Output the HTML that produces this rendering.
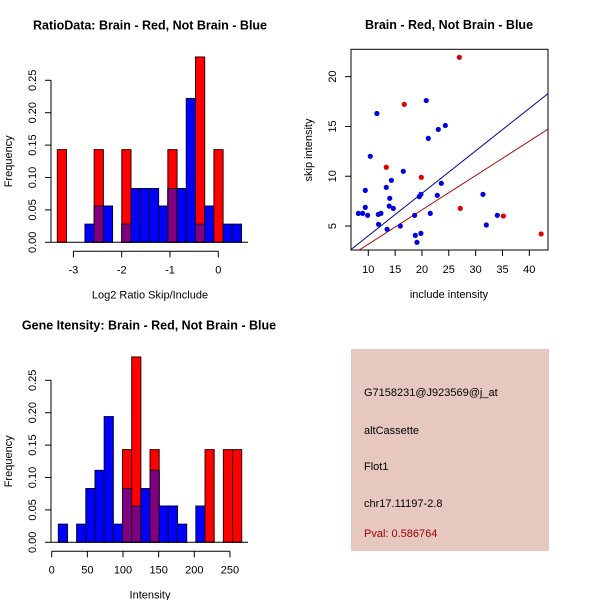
<!DOCTYPE html>
<html><head><meta charset="utf-8"><style>
body{margin:0;background:#fff}
svg{display:block;font-family:"Liberation Sans",sans-serif}
</style></head><body>
<svg id="c" width="600" height="600" viewBox="0 0 600 600">
<rect x="351" y="349" width="198" height="202" fill="#e6c8c0"/>
<g font-size="11" fill="#000">
<text x="364" y="396">G7158231@J923569@j_at</text>
<text x="364" y="434">altCassette</text>
<text x="364" y="470">Flot1</text>
<text x="364" y="507">chr17.11197-2.8</text>
<text x="364" y="537" fill="#a00000">Pval: 0.586764</text>
</g>
</svg>
<script>
// Histogram 1: Log2 ratio
const h1Start=-3.333, h1Width=0.1907;
const h1Red=[0.143,0,0,0,0.143,0,0,0.143,0,0,0,0,0.143,0,0,0.286,0,0.143,0,0];
const h1Blue=[0,0,0,0.028,0.056,0.056,0,0.028,0.083,0.083,0.083,0.056,0.083,0.083,0.222,0.028,0.056,0,0.028,0.028];
const h1XTicks=[-3,-2,-1,0];
// Histogram 2: Intensity
const h2Start=9.3, h2Width=12.86;
const h2Red=[0,0,0,0,0,0,0,0.143,0.286,0,0.143,0,0,0,0,0,0.143,0,0.143,0.143];
const h2Blue=[0.028,0,0.028,0.083,0.111,0.194,0.028,0.083,0.056,0.083,0.111,0.056,0.056,0.028,0,0.056,0,0,0,0];
const h2XTicks=[0,50,100,150,200,250];
const yTicks=[0,0.05,0.10,0.15,0.20,0.25];
const yTickLabels=["0.00","0.05","0.10","0.15","0.20","0.25"];
// Scatter
const blueX=[8.14,8.94,9.44,9.44,9.88,10.37,11.6,11.86,12.36,11.9,13.35,13.5,13.9,14.0,14.3,14.66,15.96,16.52,18.63,18.76,19.07,19.5,19.8,19.8,20.8,21.18,21.55,22.86,23.04,23.6,24.35,31.37,31.99,34.04];
const blueY=[6.27,6.27,8.58,6.87,6.07,12.0,16.3,6.17,6.27,5.17,8.88,4.67,7.0,7.78,9.59,6.77,5.0,10.49,6.07,4.06,3.36,7.95,8.18,4.26,17.6,13.8,6.27,8.08,14.7,9.29,15.1,8.18,5.1,6.07];
const redX=[26.96,16.7,13.35,19.88,27.14,35.16,42.2];
const redY=[21.94,17.22,10.9,9.89,6.77,6.0,4.2];
const blueLine=[0.4266,-0.25]; // slope, intercept
const redLine=[0.345,-0.28];
const sXTicks=[10,15,20,25,30,35,40];
const sYTicks=[5,10,15,20];

const svg=document.getElementById('c');
const NS='http://www.w3.org/2000/svg';
function el(tag,attrs,parent){const e=document.createElementNS(NS,tag);for(const k in attrs)e.setAttribute(k,attrs[k]);(parent||svg).appendChild(e);return e;}
function txt(s,attrs,parent){const e=el('text',attrs,parent);e.textContent=s;return e;}

function hist(o){
  const g=el('g',{});
  
  
  const sx=v=>o.x0+(v-o.v0)*o.kx, sy=v=>o.y0-v*o.ky;
  for(let i=0;i<o.red.length;i++){
    const a=sx(o.start+i*o.width), b=sx(o.start+(i+1)*o.width);
    const r=o.red[i], bl=o.blue[i];
    if(r>0){const e=el('rect',{x:a,y:sy(r),width:b-a,height:sy(0)-sy(r),fill:'#ff0000',stroke:'#300',"stroke-width":1},g);
      }
    if(bl>0){const e=el('rect',{x:a,y:sy(bl),width:b-a,height:sy(0)-sy(bl),fill:'#0000ff',stroke:'#000030',"stroke-width":1},g);
      }
    const m=Math.min(r,bl);
    if(m>0){const e=el('rect',{x:a,y:sy(m),width:b-a,height:sy(0)-sy(m),fill:'#800080',stroke:'#200020',"stroke-width":1},g);
      }
  }
  el('line',{x1:51,x2:248,y1:sy(0),y2:sy(0),stroke:'#000'},g);
  const ya=el('g',{},g);
  el('line',{x1:51,x2:51,y1:sy(0),y2:sy(0.25),stroke:'#000'},ya);
  yTicks.forEach((t,i)=>{el('line',{x1:45,x2:51,y1:sy(t),y2:sy(t),stroke:'#000'},ya);
    txt(yTickLabels[i],{x:0,y:0,transform:`translate(36,${sy(t)}) rotate(-90)`,'text-anchor':'middle','font-size':11},ya);});
  const xa=el('g',{},g);
  const axY=o.y0+9;
  el('line',{x1:sx(o.ticks[0]),x2:sx(o.ticks[o.ticks.length-1]),y1:axY,y2:axY,stroke:'#000'},xa);
  o.ticks.forEach(t=>{el('line',{x1:sx(t),x2:sx(t),y1:axY,y2:axY+6,stroke:'#000'},xa);
    txt(String(t),{x:sx(t),y:axY+22,'text-anchor':'middle','font-size':11},xa);});
  const xl=txt(o.xlab,{x:150,y:o.y0+56,'text-anchor':'middle','font-size':11},g);
  
  const yl=txt('Frequency',{x:0,y:0,transform:`translate(12,${o.y0-81}) rotate(-90)`,'text-anchor':'middle','font-size':11},g);
  
  const tt=txt(o.title,{x:o.tx,y:o.y0-213,'text-anchor':'middle','font-size':12.5,'font-weight':'bold'},g);
  
}
hist({name:'ratio-histogram',start:h1Start,width:h1Width,red:h1Red,blue:h1Blue,ticks:h1XTicks,x0:218.3,v0:0,kx:48.3,y0:242.3,ky:648,xlab:'Log2 Ratio Skip/Include',title:'RatioData: Brain - Red, Not Brain - Blue',tx:150});
hist({name:'intensity-histogram',start:h2Start,width:h2Width,red:h2Red,blue:h2Blue,ticks:h2XTicks,x0:51.7,v0:0,kx:0.713,y0:542.3,ky:648,xlab:'Intensity',title:'Gene Itensity: Brain - Red, Not Brain - Blue',tx:149});

(function(){
  const g=el('g',{});
  
  
  const L=351,R=548,T=49.3,B=250;
  const sx=v=>368.3+(v-10)*5.367, sy=v=>226-(v-5)*9.956;
  const cp=el('clipPath',{id:'sc'},g);el('rect',{x:L,y:T,width:R-L,height:B-T},cp);
  const lg=el('g',{'clip-path':'url(#sc)'},g);
  const xa0=(L-368.3)/5.367+10, xa1=(R-368.3)/5.367+10;
  [[blueLine,'#0000a0','blue-fit-line'],[redLine,'#b00000','red-fit-line']].forEach(([ln,c,n])=>{
    const e=el('line',{x1:sx(xa0),y1:sy(ln[0]*xa0+ln[1]),x2:sx(xa1),y2:sy(ln[0]*xa1+ln[1]),stroke:c,'stroke-width':1},lg);
    });
  blueX.forEach((x,i)=>{const e=el('circle',{cx:sx(x),cy:sy(blueY[i]),r:2.6,fill:'#0000e0'},lg);
    });
  redX.forEach((x,i)=>{const e=el('circle',{cx:sx(x),cy:sy(redY[i]),r:2.6,fill:'#e00000'},lg);
    });
  el('rect',{x:L,y:T,width:R-L,height:B-T,fill:'none',stroke:'#000'},g);
  sXTicks.forEach(t=>{el('line',{x1:sx(t),x2:sx(t),y1:B,y2:B+6,stroke:'#000'},g);
    txt(String(t),{x:sx(t),y:B+23,'text-anchor':'middle','font-size':11},g);});
  sYTicks.forEach(t=>{el('line',{x1:L-6,x2:L,y1:sy(t),y2:sy(t),stroke:'#000'},g);
    txt(String(t),{x:0,y:0,transform:`translate(${L-15},${sy(t)}) rotate(-90)`,'text-anchor':'middle','font-size':11},g);});
  const xl=txt('include intensity',{x:449,y:298,'text-anchor':'middle','font-size':11},g);
  
  const yl=txt('skip intensity',{x:0,y:0,transform:'translate(312,150) rotate(-90)','text-anchor':'middle','font-size':11},g);
  
  const tt=txt('Brain - Red, Not Brain - Blue',{x:449,y:29,'text-anchor':'middle','font-size':12.5,'font-weight':'bold'},g);
  
})();
</script>
</body></html>
